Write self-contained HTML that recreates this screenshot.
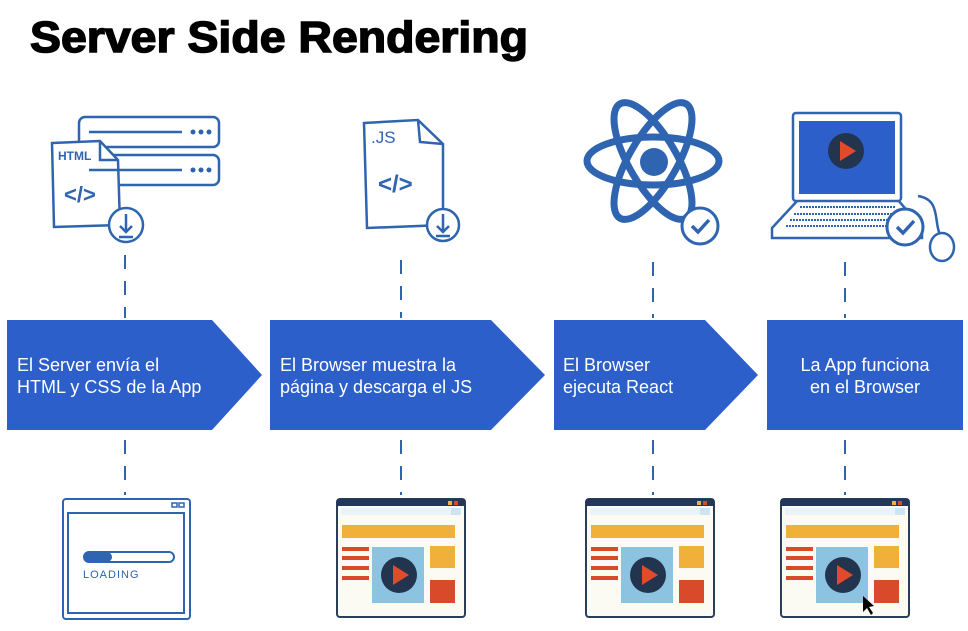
<!DOCTYPE html>
<html><head><meta charset="utf-8"><style>
body{margin:0;background:#fff;width:968px;height:626px;overflow:hidden;font-family:"Liberation Sans",sans-serif}
</style></head><body>
<svg width="968" height="626" viewBox="0 0 968 626" xmlns="http://www.w3.org/2000/svg">
<defs>
<g id="bw">
<rect x="0" y="0" width="128" height="118" rx="3" fill="#fbfaf3" stroke="#2b3e58" stroke-width="2"/>
<rect x="0" y="0" width="128" height="7" fill="#22375a"/>
<rect x="111" y="2" width="4" height="4" fill="#f0b03a"/><rect x="117" y="2" width="4" height="4" fill="#d94a2a"/>
<rect x="4" y="9" width="110" height="7" fill="#eaf3fa"/><rect x="114" y="9" width="10" height="7" fill="#cfe3f0"/>
<rect x="5" y="26" width="113" height="13" fill="#f0b03a"/>
<rect x="5" y="48" width="27" height="4" fill="#d94a2a"/><rect x="5" y="57" width="27" height="4" fill="#d94a2a"/>
<rect x="5" y="67" width="27" height="4" fill="#d94a2a"/><rect x="5" y="77" width="27" height="4" fill="#d94a2a"/>
<rect x="35" y="48" width="52" height="56" fill="#8cc3e0"/>
<circle cx="62" cy="76" r="18" fill="#23344f"/>
<polygon points="56,66 56,86 72,76" fill="#e24a2c"/>
<rect x="93" y="47" width="25" height="22" fill="#f0b03a"/>
<rect x="93" y="81" width="25" height="23" fill="#d94a2a"/>
</g>
</defs>
<text x="30" y="52" font-size="44" font-weight="bold" fill="#000" stroke="#000" stroke-width="1.5" textLength="498" lengthAdjust="spacingAndGlyphs">Server Side Rendering</text>

<g stroke="#2e64b0" stroke-width="2" stroke-dasharray="14,12" fill="none">
<line x1="125" y1="255" x2="125" y2="318"/><line x1="125" y1="440" x2="125" y2="495"/>
<line x1="401" y1="260" x2="401" y2="318"/><line x1="401" y1="440" x2="401" y2="495"/>
<line x1="653" y1="262" x2="653" y2="318"/><line x1="653" y1="440" x2="653" y2="495"/>
<line x1="845" y1="262" x2="845" y2="318"/><line x1="845" y1="440" x2="845" y2="495"/>
</g>

<g fill="#2c5fc9">
<polygon points="7,320 212,320 262,375 212,430 7,430"/>
<polygon points="270,320 491,320 545,375 491,430 270,430"/>
<polygon points="554,320 705,320 758,375 705,430 554,430"/>
<rect x="767" y="320" width="196" height="110"/>
</g>
<g fill="#fff" font-size="18">
<text x="17" y="371">El Server envía el</text><text x="17" y="393">HTML y CSS de la App</text>
<text x="280" y="371">El Browser muestra la</text><text x="280" y="393">página y descarga el JS</text>
<text x="563" y="371">El Browser</text><text x="563" y="393">ejecuta React</text>
<text x="865" y="371" text-anchor="middle">La App funciona</text><text x="865" y="393" text-anchor="middle">en el Browser</text>
</g>

<!-- icon 1 -->
<g stroke="#2e64b0" stroke-width="2.5" fill="#fff">
<rect x="79" y="117" width="140" height="30" rx="6"/>
<rect x="79" y="155" width="140" height="30" rx="6"/>
<path d="M52,143 L100,141 L118,160 L120,225 L54,227 Z"/>
<path d="M100,141 L100,160 L118,160" fill="none"/>
<circle cx="126" cy="225" r="17"/>
<path d="M126,214 V231 M120,226 L126,232 L132,226 M119,237 H133" fill="none"/>
<path d="M89,132 H182 M89,170 H182" fill="none"/>
</g>
<g fill="#2e64b0"><circle cx="193" cy="132" r="2.5"/><circle cx="201" cy="132" r="2.5"/><circle cx="209" cy="132" r="2.5"/>
<circle cx="193" cy="170" r="2.5"/><circle cx="201" cy="170" r="2.5"/><circle cx="209" cy="170" r="2.5"/></g>
<text x="58" y="160" font-size="12" font-weight="bold" fill="#2e64b0">HTML</text>
<text x="64" y="202" font-size="22" font-weight="bold" fill="#2e64b0">&lt;/&gt;</text>

<!-- icon 2 -->
<g stroke="#2e64b0" stroke-width="2.5" fill="#fff">
<path d="M364,123 L418,120 L443,144 L443,225 L367,228 Z"/>
<path d="M418,120 L420,142 L443,144" fill="none"/>
<circle cx="443" cy="225" r="16"/>
<path d="M443,214 V231 M437,226 L443,232 L449,226 M436,236 H450" fill="none"/>
</g>
<text x="371" y="143" font-size="17" fill="#2e64b0">.JS</text>
<text x="378" y="192" font-size="24" font-weight="bold" fill="#2e64b0">&lt;/&gt;</text>

<!-- react -->
<g stroke="#2e64b0" stroke-width="7" fill="none">
<ellipse cx="653" cy="161" rx="66" ry="24"/>
<ellipse cx="653" cy="161" rx="66" ry="24" transform="rotate(60 653 161)"/>
<ellipse cx="653" cy="161" rx="66" ry="24" transform="rotate(-60 653 161)"/>
</g>
<circle cx="654" cy="162" r="14" fill="#2e64b0"/>
<circle cx="700" cy="226" r="18" fill="#fff" stroke="#2e64b0" stroke-width="3"/>
<path d="M692,226 L698,232 L709,220" stroke="#2e64b0" stroke-width="3.5" fill="none"/>

<!-- laptop -->
<g stroke="#2e64b0" stroke-width="2.5" fill="#fff">
<path d="M798,200 L772,228 L772,238 L922,238 L922,228 L898,200 Z"/>
<rect x="793" y="113" width="108" height="88" rx="3"/>
<path d="M918,196 C945,200 930,230 945,240" fill="none"/>
<ellipse cx="942" cy="247" rx="12" ry="14"/>
</g>
<rect x="799" y="121" width="96" height="73" fill="#2c5fc9"/>
<circle cx="846" cy="151" r="18" fill="#23344f"/>
<polygon points="840,141 840,161 856,151" fill="#e24a2c"/>
<g stroke="#2e64b0" stroke-width="2"><line x1="800" y1="207" x2="895" y2="207" stroke-dasharray="2,1"/><line x1="794" y1="214" x2="900" y2="214" stroke-dasharray="2,1"/><line x1="790" y1="220" x2="905" y2="220" stroke-dasharray="2,1"/><line x1="786" y1="226" x2="908" y2="226" stroke-dasharray="2,1"/></g>
<circle cx="905" cy="227" r="18" fill="#fff" stroke="#2e64b0" stroke-width="3"/>
<path d="M897,227 L903,233 L914,221" stroke="#2e64b0" stroke-width="3.5" fill="none"/>

<!-- loading window -->
<g stroke="#2e64b0" stroke-width="2" fill="#fff">
<rect x="63" y="499" width="127" height="120" rx="3"/>
<rect x="68" y="513" width="116" height="100" fill="none"/>
<rect x="84" y="552" width="90" height="10" rx="5"/>
</g>
<rect x="84" y="552" width="28" height="10" rx="5" fill="#2e64b0"/>
<g fill="none" stroke="#2e64b0" stroke-width="1.5"><rect x="172" y="503" width="5" height="4"/><rect x="179" y="503" width="5" height="4"/></g>
<text x="83" y="578" font-size="11" fill="#2e64b0" letter-spacing="1">LOADING</text>

<use href="#bw" x="337" y="499"/>
<use href="#bw" x="586" y="499"/>
<use href="#bw" x="781" y="499"/>
<polygon points="863,596 863,612 867,608 871,615 873,613 869,607 874,606" fill="#000"/>
</svg>
</body></html>
